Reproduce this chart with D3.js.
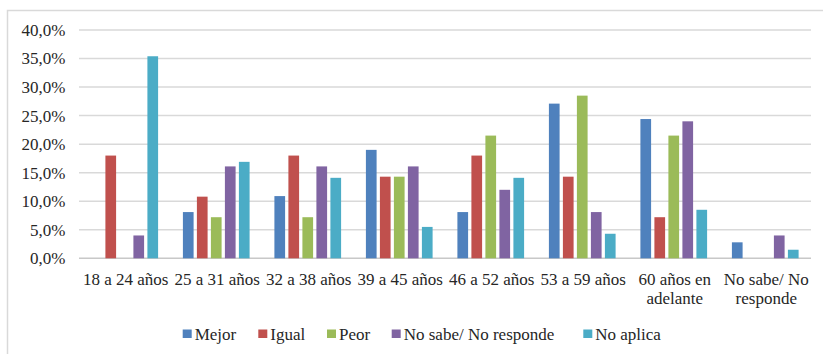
<!DOCTYPE html>
<html>
<head>
<meta charset="utf-8">
<script src="https://cdn.jsdelivr.net/npm/d3@7"></script>
</head>
<body style="margin:0">
<svg id="fig" width="823" height="354"></svg>
<script>
// Age groups along the x axis (lines of each label)
const categories = ["18 a 24 años", "25 a 31 años", "32 a 38 años", "39 a 45 años",
  "46 a 52 años", "53 a 59 años", "60 años en adelante", "No sabe/ No responde"];
const categoryLines = [["18 a 24 años"], ["25 a 31 años"], ["32 a 38 años"], ["39 a 45 años"],
  ["46 a 52 años"], ["53 a 59 años"], ["60 años en", "adelante"], ["No sabe/ No", "responde"]];

// Response series (percent)
const seriesNames = ["Mejor", "Igual", "Peor", "No sabe/ No responde", "No aplica"];
const mejor   = [0,    8.1, 10.9, 19.0,  8.1, 27.1, 24.4, 2.8];
const igual   = [18.0, 10.8, 18.0, 14.3, 18.0, 14.3,  7.2, 0];
const peor    = [0,    7.2,  7.2, 14.3, 21.5, 28.5, 21.5, 0];
const noSabe  = [4.0, 16.1, 16.1, 16.1, 12.0,  8.1, 24.0, 4.0];
const noAplica= [35.4, 16.9, 14.1, 5.5, 14.1,  4.3,  8.5, 1.5];
const seriesValues = [mejor, igual, peor, noSabe, noAplica];

const yTicks = [0, 5, 10, 15, 20, 25, 30, 35, 40];
const colors = ["#4F81BD", "#C0504D", "#9BBB59", "#8064A2", "#4BACC6"];

const FONT = "Liberation Serif";
const FS = "17px";
const TXT = "#262626";

const svg = d3.select("#fig");

function addText(parent, px, py, str, anchor, dy) {
  parent.append("text")
    .attr("x", px).attr("y", py)
    .attr("text-anchor", anchor || "start")
    .attr("dy", dy || null)
    .attr("fill", TXT)
    .style("font-family", FONT)
    .style("font-size", FS)
    .text(str);
}

// chart frame
svg.append("path")
  .attr("d", "M7.5,354 V10.5 H823")
  .attr("fill", "none").attr("stroke", "#d9d9d9").attr("stroke-width", 1.5);

const x = d3.scaleBand().domain(categories).range([79, 811]).paddingInner(0).paddingOuter(0);
const y = d3.scaleLinear().domain([0, 40]).range([258.3, 30]);
const inner = d3.scaleBand().domain(seriesNames).range([-35, 35]).paddingInner(0.236).paddingOuter(0.118);

// gridlines
svg.append("g").selectAll("line").data(yTicks).join("line")
  .attr("x1", 79).attr("x2", 811)
  .attr("y1", d => y(d)).attr("y2", d => y(d))
  .attr("stroke", d => d === 0 ? "#c8c8c8" : "#d9d9d9")
  .attr("stroke-width", 1.5);

// y axis labels
const fmt = d => d.toFixed(1).replace(".", ",") + "%";
const yg = svg.append("g");
yTicks.forEach(d => addText(yg, 65.5, y(d), fmt(d), "end", "0.35em"));

// bars
const rows = [];
seriesNames.forEach((s, si) => {
  categories.forEach((c, ci) => {
    rows.push({ s, si, c, v: seriesValues[si][ci] });
  });
});
svg.append("g").selectAll("rect").data(rows.filter(r => r.v > 0)).join("rect")
  .attr("x", r => x(r.c) + x.bandwidth() / 2 + inner(r.s))
  .attr("width", inner.bandwidth())
  .attr("y", r => y(r.v))
  .attr("height", r => y(0) - y(r.v))
  .attr("fill", r => colors[r.si]);

// x axis labels
const xg = svg.append("g");
categories.forEach((c, ci) => {
  const cx = x(c) + x.bandwidth() / 2;
  categoryLines[ci].forEach((ln, i) => addText(xg, cx + 1, 285 + i * 18.5, ln, "middle"));
});

// legend
const legendX = [182.7, 258.3, 327, 391.7, 583.3];
const lg = svg.append("g");
seriesNames.forEach((s, i) => {
  lg.append("rect").attr("x", legendX[i]).attr("y", 329.5).attr("width", 9).attr("height", 8.5).attr("fill", colors[i]);
  addText(lg, legendX[i] + 12, 340, s, "start");
});
</script>
</body>
</html>
